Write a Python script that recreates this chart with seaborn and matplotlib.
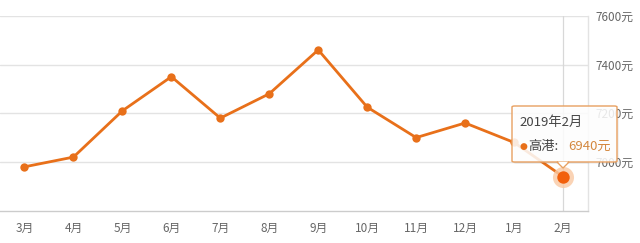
import matplotlib
matplotlib.use("Agg")
import matplotlib.pyplot as plt
import seaborn as sns
import pandas as pd
from matplotlib.patches import FancyBboxPatch, Polygon

months = ["3月", "4月", "5月", "6月", "7月", "8月", "9月", "10月", "11月", "12月", "1月", "2月"]
prices = [6980, 7020, 7210, 7350, 7180, 7280, 7460, 7225, 7100, 7160, 7080, 6940]
yticks = [7000, 7200, 7400, 7600]
ytick_labels = ["7000元", "7200元", "7400元", "7600元"]
tip_title = "2019年2月"
tip_series = "高港"
tip_value = "6940元"

sns.set_style("white")
plt.rcParams["font.family"] = ["Noto Sans CJK SC", "DejaVu Sans"]

df = pd.DataFrame({"x": range(len(months)), "month": months, "price": prices})

fig = plt.figure(figsize=(6.4, 2.43), dpi=100)
ax = fig.add_axes([0.0, 0.133, 0.918, 0.802])

orange = "#e8701a"
sns.lineplot(data=df, x="x", y="price", ax=ax, color=orange, linewidth=2.0,
             marker="o", markersize=6, markeredgewidth=0, zorder=3)

# highlighted last point
last = df.iloc[-1]
ax.scatter([last["x"]], [last["price"]], s=230, color="#f9c9a3", alpha=0.8, linewidths=0, zorder=4)
ax.scatter([last["x"]], [last["price"]], s=80, color="#f2600c", linewidths=0, zorder=5)
# axis pointer
ax.axvline(last["x"], color="#d8d8d8", linewidth=0.9, zorder=1)

ax.set_xlim(-0.5, len(months) - 0.5)
ax.set_ylim(6800, 7600)
ax.set_xticks(range(len(months)))
ax.set_xticklabels(months)
ax.set_yticks(yticks)
ax.set_yticklabels(ytick_labels)
ax.yaxis.tick_right()
ax.tick_params(axis="y", length=0, pad=6, labelsize=8.5, labelcolor="#666666")
ax.tick_params(axis="x", length=3, width=0.8, color="#cccccc", pad=5, labelsize=8.5, labelcolor="#666666")
ax.grid(axis="y", color="#e3e3e3", linewidth=1)
ax.set_axisbelow(True)
ax.set_xlabel("")
ax.set_ylabel("")
for s in ["top", "left"]:
    ax.spines[s].set_visible(False)
ax.spines["bottom"].set_color("#cccccc")
ax.spines["right"].set_color("#e3e3e3")
ax.spines["bottom"].set_linewidth(1)
ax.spines["right"].set_linewidth(1)

# tooltip (figure pixel coords -> fractions)
W, H = 640, 243
def fx(px):
    return px / W
def fy(py):
    return 1 - py / H

bx0, bx1, by0, by1 = 512, 617, 106, 162
shadow = FancyBboxPatch((fx(bx0 + 2), fy(by1 + 2)), fx(bx1) - fx(bx0), fy(by0) - fy(by1),
                        boxstyle="round,pad=0,rounding_size=0.004", transform=fig.transFigure,
                        facecolor="#000000", edgecolor="none", alpha=0.05, zorder=19)
fig.patches.append(shadow)
box = FancyBboxPatch((fx(bx0), fy(by1)), fx(bx1) - fx(bx0), fy(by0) - fy(by1),
                     boxstyle="round,pad=0,rounding_size=0.004", transform=fig.transFigure,
                     facecolor=(1, 1, 1, 0.86), edgecolor="#e8a060", linewidth=1.0, zorder=20)
fig.patches.append(box)
px = 563
tri = Polygon([(fx(px - 6), fy(by1)), (fx(px + 6), fy(by1)), (fx(px), fy(by1 + 6))], closed=True,
              transform=fig.transFigure, facecolor="white", edgecolor="#e8a060", linewidth=1.0, zorder=21)
fig.patches.append(tri)
cover = Polygon([(fx(px - 5.2), fy(by1 - 0.4)), (fx(px + 5.2), fy(by1 - 0.4)), (fx(px), fy(by1 + 4.5))],
                closed=True, transform=fig.transFigure, facecolor="white", edgecolor="none", zorder=22)
fig.patches.append(cover)

fig.text(fx(519), fy(122), tip_title, fontsize=9.5, color="#444444", va="center", ha="left", zorder=30)
fig.text(fx(519), fy(146), "●", fontsize=6.5, color=orange, va="center", ha="left", zorder=30,
         family=["DejaVu Sans"])
fig.text(fx(528), fy(146), tip_series + ":", fontsize=9.5, color="#444444", va="center", ha="left", zorder=30)
fig.text(fx(568), fy(146), tip_value, fontsize=9.5, color="#d4883f", va="center", ha="left", zorder=30)

fig.savefig("out.png", dpi=100)
